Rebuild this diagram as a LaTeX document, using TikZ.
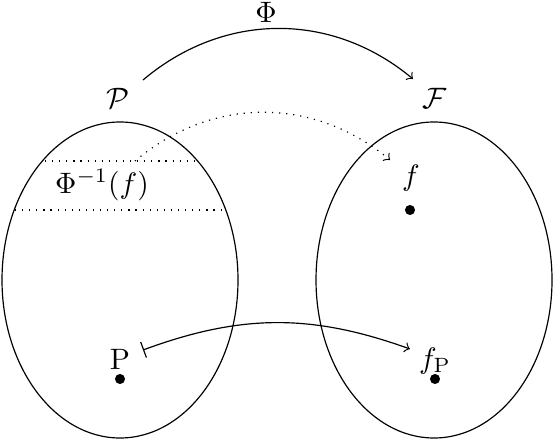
\documentclass[tikz,border=0pt]{standalone}
\begin{document}
\begin{tikzpicture}
        [x=0.0119cm,y=-0.0119cm,
        every node/.style={inner sep=1pt},
        dot/.style={fill=black,circle,inner sep=0pt,minimum size=1.2mm},
        map/.style={->},
        preimage/.style={dotted}]
        \useasboundingbox (0,0) rectangle (554,440);
        % the two sets
        \draw (120,280) ellipse [x radius=118,y radius=158];
        \draw (434,280) ellipse [x radius=118,y radius=158];
        \node (setP) at (118,98) {$\mathcal{P}$};
        \node (setF) at (435,98) {$\mathcal{F}$};
        % the map between them
        \coordinate (mapstart) at (143,80);
        \coordinate (mapend) at (413,79);
        \draw[map] (mapstart) to[bend left=40] (mapend);
        \node (Phi) at (266,12) {$\Phi$};
        % the preimage band
        \coordinate (bandtopleft) at (45,161);
        \coordinate (bandtopright) at (197,161);
        \coordinate (bandbotleft) at (15,210);
        \coordinate (bandbotright) at (222,210);
        \draw[preimage] (bandtopleft) -- (bandtopright);
        \draw[preimage] (bandbotleft) -- (bandbotright);
        \node (inv) at (102,185) {$\Phi^{-1}(f)$};
        % points
        \node[dot] (fdot) at (410,210) {};
        \node (flabel) at (411,178) {$f$};
        \node[dot] (Pdot) at (120,379) {};
        \node (Plabel) at (120,359) {P};
        \node[dot] (fPdot) at (435,379) {};
        \node (fPlabel) at (435,361) {$f_{\mathrm{P}}$};
        % arrows
        \coordinate (invstart) at (135,161);
        \coordinate (invend) at (390,160);
        \draw[preimage,->] (invstart) to[bend left=40] (invend);
        \coordinate (Pstart) at (143,350);
        \coordinate (Pend) at (410,349);
        \draw[map,|->] (Pstart) to[bend left=20] (Pend);
\end{tikzpicture}
\end{document}
